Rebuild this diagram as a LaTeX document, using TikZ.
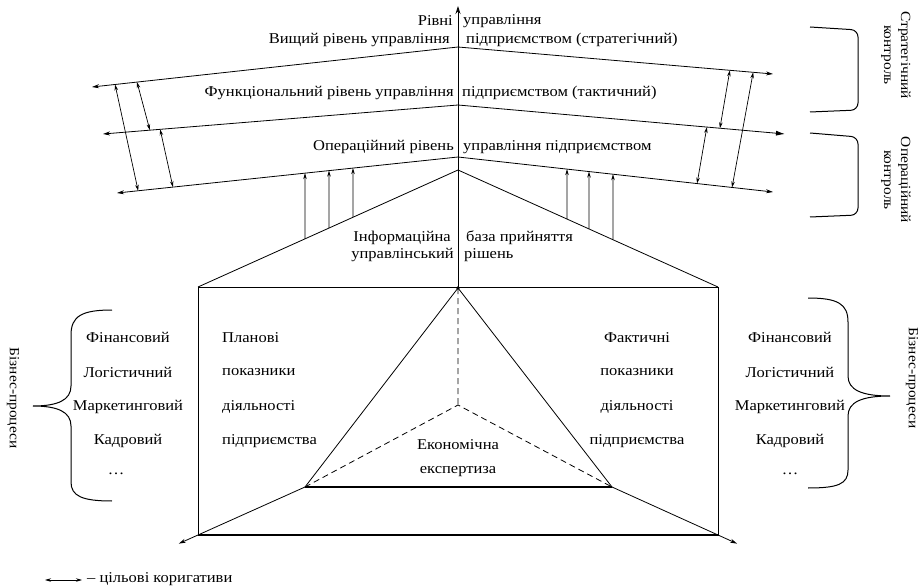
\documentclass[tikz,border=0pt]{standalone}
\usepackage{fontspec}
\setmainfont{Liberation Serif}[FakeStretch=1.1]
\usetikzlibrary{arrows.meta,calc}

\begin{document}
\begin{tikzpicture}[x=1pt,y=-1pt,%
    every node/.style={font=\fontsize{15}{17}\selectfont,inner sep=1pt},
    levelline/.style={-{Stealth[length=7pt,width=4pt]},line width=0.8pt},
    corrective/.style={{Stealth[length=6pt,width=3.5pt]}-{Stealth[length=6pt,width=3.5pt]},line width=0.7pt},
    infoarrow/.style={-{Stealth[length=6pt,width=3.5pt]},line width=0.7pt},
    frame/.style={line width=0.8pt},
    thickline/.style={line width=1.4pt},
    dashline/.style={dash pattern=on 6pt off 4pt,line width=0.8pt},
    bracket/.style={line width=1pt,rounded corners=7pt},
    sidetext/.style={rotate=-90,align=center,font=\fontsize{14}{17}\selectfont}]

  \useasboundingbox (0,0) rectangle (924,588);

  % levels of management
  \coordinate (top) at (458,6);
  \coordinate (L1l) at (92,87);   \coordinate (L1c) at (458,47);  \coordinate (L1r) at (773,74);
  \coordinate (L2l) at (103,134); \coordinate (L2c) at (458,105); \coordinate (L2r) at (785,134);
  \coordinate (L3l) at (117,193); \coordinate (L3c) at (458,157); \coordinate (L3r) at (773,192);

  % information base and indicators
  \coordinate (Ic) at (458,170);
  \coordinate (RTL) at (198,287); \coordinate (RTR) at (718,287);
  \coordinate (RBL) at (198,535); \coordinate (RBR) at (718,535);
  \coordinate (apex) at (458,288);
  \coordinate (PL) at (305,487);  \coordinate (PR) at (612,487);
  \coordinate (E) at (458,405);

  \draw[levelline] (L1c) -- (L1l);
  \draw[levelline] (L1c) -- (L1r);
  \draw[levelline] (L2c) -- (L2l);
  \draw[-{Latex[length=9pt,width=5pt]},line width=0.8pt] (L2c) -- (L2r);
  \draw[levelline] (L3c) -- (L3l);
  \draw[levelline] (L3c) -- (L3r);
  \draw[-{Stealth[length=8pt,width=5pt]},line width=0.8pt] (apex) -- (top);

  \node[anchor=east] (rivni) at (454,21) {Рівні};
  \node[anchor=west] (rivni-r) at (462,21) {управління};
  \node[anchor=east] (vyshchyi) at (451,40) {Вищий рівень управління};
  \node[anchor=west] (vyshchyi-r) at (465,40) {підприємством (стратегічний)};
  \node[anchor=east] (funk) at (455,93) {Функціональний рівень управління};
  \node[anchor=west] (funk-r) at (461,93) {підприємством (тактичний)};
  \node[anchor=east] (oper) at (455,147) {Операційний рівень};
  \node[anchor=west] (oper-r) at (462,147) {управління підприємством};

  % corrective arrows
  \draw[corrective] ($(L3l)!0.062!(L3c)$) -- ($(L1l)!0.063!(L1c)$);
  \draw[corrective] ($(L1l)!0.123!(L1c)$) -- ($(L2l)!0.132!(L2c)$);
  \draw[corrective] ($(L3l)!0.164!(L3c)$) -- ($(L2l)!0.161!(L2c)$);
  \draw[corrective] ($(L1c)!0.863!(L1r)$) -- ($(L2c)!0.801!(L2r)$);
  \draw[corrective] ($(L3c)!0.870!(L3r)$) -- ($(L1c)!0.937!(L1r)$);
  \draw[corrective] ($(L3c)!0.759!(L3r)$) -- ($(L2c)!0.761!(L2r)$);

  % information flows up
  \draw[frame] (RTL) -- (Ic) -- (RTR);
  \foreach \x in {305,329,353}
    \draw[infoarrow] ($(Ic)!{(458-\x)/260}!(RTL)$) -- ($(L3l)!{(\x-117)/341}!(L3c)$);
  \foreach \x in {567,589,613}
    \draw[infoarrow] ($(Ic)!{(\x-458)/260}!(RTR)$) -- ($(L3c)!{(\x-458)/315}!(L3r)$);

  \node[anchor=east] (info) at (452,238) {Інформаційна};
  \node[anchor=west] (info-r) at (465,238) {база прийняття};
  \node[anchor=east] (info2) at (455,255) {управлінський};
  \node[anchor=west] (info2-r) at (463,255) {рішень};

  % indicators block
  \draw[frame] (RTL) rectangle (RBR);
  \draw[thickline] (RBL) -- (RBR);
  \draw[frame] (PL) -- (apex) -- (PR);
  \draw[thickline] (PL) -- (PR);
  \draw[dashline] (apex) -- (E) (PL) -- (E) -- (PR);
  \fill (apex) circle (1.8pt);
  \draw[frame,-{Stealth[length=7pt,width=4pt]}] (PL) -- ($(PL)!1.18!(RBL)$);
  \draw[frame,-{Stealth[length=7pt,width=4pt]}] (PR) -- ($(PR)!1.18!(RBR)$);

  \foreach \txt [count=\i] in {Планові,показники,діяльності,підприємства}
    \node[anchor=west] (plan-\i) at (221,{303+34.5*\i}) {\txt};
  \foreach \txt [count=\i] in {Фактичні,показники,діяльності,підприємства}
    \node (fact-\i) at (637,{303+34.5*\i}) {\txt};
  \node (expert) at (458,445) {Економічна};
  \node (expert-2) at (458,472) {експертиза};

  % business processes
  \foreach \txt [count=\i] in {Фінансовий,Логістичний,Маркетинговий,Кадровий}
    {\node (bp-l\i) at (128,{303+34.5*\i}) {\txt};
     \node (bp-r\i) at (790,{303+34.5*\i}) {\txt};}
  \node (bp-l5) at (116,474) {\ldots};
  \node (bp-r5) at (790,474) {\ldots};

  \draw[line width=1pt] (112,310) .. controls (82,310) and (71,316) .. (71,335) -- (71,386)
    .. controls (71,400) and (58,406) .. (33,406) .. controls (58,406) and (71,412) .. (71,426)
    -- (71,482) .. controls (71,496) and (82,501) .. (112,501);
  \draw[line width=1pt] (808,298) .. controls (838,298) and (848,304) .. (848,322) -- (848,376)
    .. controls (848,390) and (862,396) .. (890,396) .. controls (862,396) and (848,402) .. (848,416)
    -- (848,470) .. controls (848,484) and (838,488) .. (808,488);
  \node[sidetext] (bp-lt) at (13,398) {Бізнес-процеси};
  \node[sidetext] (bp-rt) at (912,378) {Бізнес-процеси};

  % kinds of control
  \draw[bracket] (810,27) -- (858,30) -- (858,110) -- (810,112);
  \draw[bracket] (810,133) -- (858,137) -- (858,215) -- (810,217);
  \node[sidetext] (strat-c) at (896,55) {Стратегічний\\контроль};
  \node[sidetext] (oper-c) at (896,180) {Операційний\\контроль};

  % legend
  \coordinate (leg-a) at (45,580); \coordinate (leg-b) at (82,580);
  \draw[corrective] (leg-a) -- (leg-b);
  \node[anchor=west] (leg) at (86,579) {– цільові коригативи};
\end{tikzpicture}
\end{document}
